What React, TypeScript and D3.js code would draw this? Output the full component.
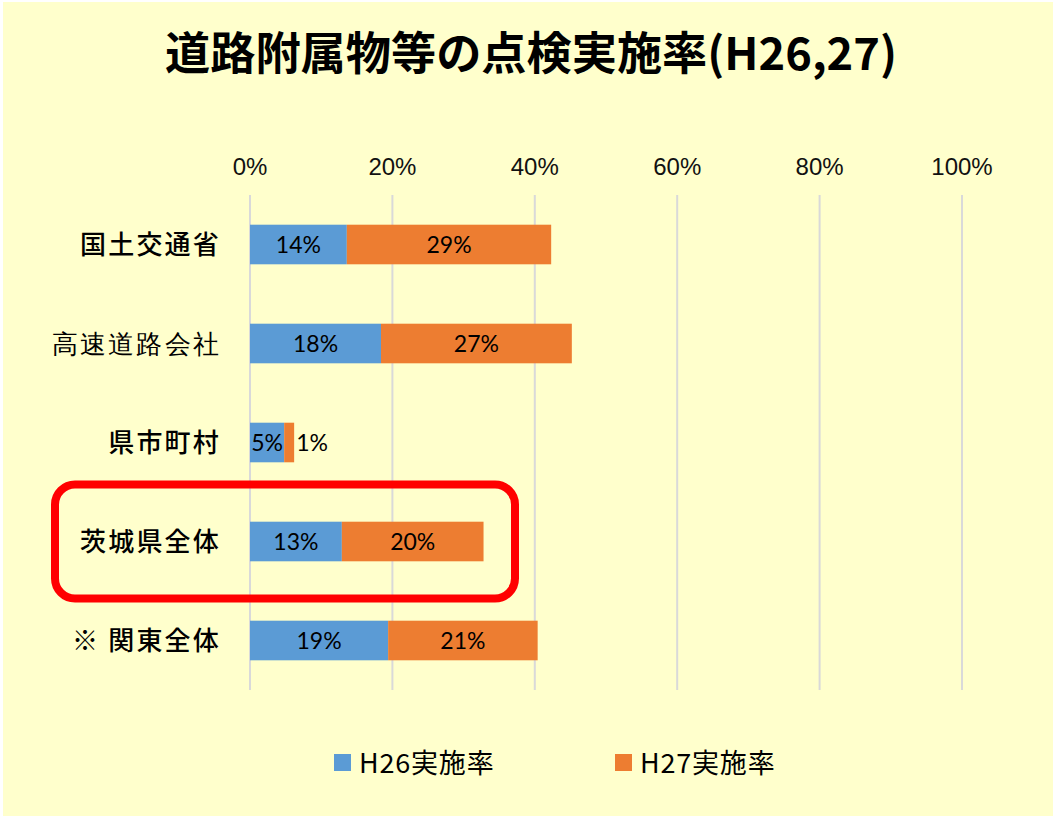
import React from "react";
import * as d3 from "d3";

const categories = ["国土交通省", "高速道路会社", "県市町村", "茨城県全体", "※ 関東全体"];
const h26Values = [13.6, 18.4, 4.8, 12.9, 19.4];
const h27Values = [28.7, 26.8, 1.4, 19.9, 21.0];
const seriesNames = ["H26実施率", "H27実施率"];
const tickValues = [0, 20, 40, 60, 80, 100];
const titleText = "道路附属物等の点検実施率(H26,27)";
const highlighted = "茨城県全体";

const W = 1056;
const H = 818;
const BLUE = "#5B9BD5";
const ORANGE = "#ED7D31";
const BG = "#FFFFCC";

export default function App() {
  const x = d3.scaleLinear().domain([0, 100]).range([250, 962]);
  const y = d3
    .scaleBand<string>()
    .domain(categories)
    .range([195, 690])
    .paddingInner(0.6)
    .paddingOuter(0.3);

  const rows = categories.map((c, i) => ({ c, a: h26Values[i], b: h27Values[i] }));
  const bw = y.bandwidth();
  const hy = (y(highlighted) as number) + bw / 2;

  const labelFont = "Lato, 'Noto Sans CJK JP', sans-serif";

  return (
    <svg
      width={W}
      height={H}
      style={{ position: "absolute", left: 0, top: 0, display: "block" }}
    >
      <rect x={0} y={0} width={W} height={H} fill="#FFFFFF" />
      <rect x={3} y={2} width={W - 6} height={H - 4} fill={BG} />
      <text
        x={531}
        y={70}
        textAnchor="middle"
        fontFamily="'Noto Sans CJK JP', sans-serif"
        fontWeight={700}
        fontSize={45}
        textLength={732}
        lengthAdjust="spacingAndGlyphs"
        fill="#000"
      >
        {titleText}
      </text>

      {tickValues.map((t) => (
        <g key={t}>
          <line x1={x(t)} x2={x(t)} y1={195} y2={690} stroke="#D9D9D9" strokeWidth={2} />
          <text
            x={x(t)}
            y={175}
            textAnchor="middle"
            fontFamily="'Liberation Sans', Arial, sans-serif"
            fontSize={24}
            fill="#111"
          >
            {t}%
          </text>
        </g>
      ))}

      {rows.map((r) => {
        const top = y(r.c) as number;
        const cy = top + bw / 2;
        const x0 = x(0);
        const x1 = x(r.a);
        const x2 = x(r.a + r.b);
        const orangeInside = x2 - x1 > 30;
        return (
          <g key={r.c}>
            <rect x={x0} y={top} width={x1 - x0} height={bw} fill={BLUE} />
            <rect x={x1} y={top} width={x2 - x1} height={bw} fill={ORANGE} />
            <text
              x={(x0 + x1) / 2}
              y={cy}
              dy="0.36em"
              textAnchor="middle"
              fontFamily={labelFont}
              fontSize={23}
              fill="#000"
            >
              {Math.round(r.a)}%
            </text>
            <text
              x={orangeInside ? (x1 + x2) / 2 : x2 + 2}
              y={cy}
              dy="0.36em"
              textAnchor={orangeInside ? "middle" : "start"}
              fontFamily={labelFont}
              fontSize={23}
              fill="#000"
            >
              {Math.round(r.b)}%
            </text>
            <text
              x={221}
              y={cy}
              dy="0.36em"
              textAnchor="end"
              fontFamily={r.c === "高速道路会社" ? "serif" : "'Noto Sans CJK JP', sans-serif"}
              fontWeight={r.c === "高速道路会社" ? 300 : 500}
              fontSize={26}
              letterSpacing={2.2}
              fill="#000"
            >
              {r.c}
            </text>
          </g>
        );
      })}

      <rect
        x={55}
        y={hy - 57}
        width={460}
        height={114}
        rx={20}
        ry={20}
        fill="none"
        stroke="#FF0000"
        strokeWidth={8}
      />

      {seriesNames.map((s, i) => {
        const lx = i === 0 ? 334 : 615;
        return (
          <g key={s}>
            <rect x={lx} y={754} width={17} height={17} fill={i === 0 ? BLUE : ORANGE} />
            <text
              x={lx + 25}
              y={763}
              dy="0.36em"
              fontFamily="'Noto Sans CJK JP', sans-serif"
              fontSize={27}
              letterSpacing={0.8}
              fill="#000"
            >
              {s}
            </text>
          </g>
        );
      })}
    </svg>
  );
}
